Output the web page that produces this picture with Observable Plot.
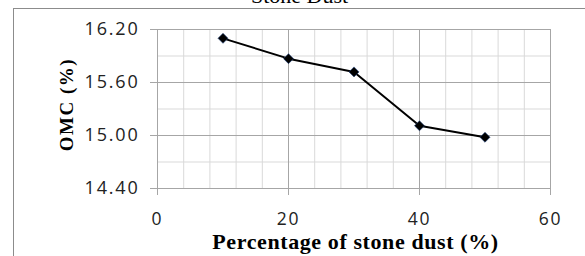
<!DOCTYPE html>
<html>
<head>
<meta charset="utf-8">
<script src="https://cdn.jsdelivr.net/npm/d3@7"></script>
<script src="https://cdn.jsdelivr.net/npm/@observablehq/plot@0.6"></script>
<style>
  html, body { margin: 0; padding: 0; background: #fff; }
  #wrap { position: relative; width: 585px; height: 256px; overflow: hidden; background: #fff; }
  #border { position: absolute; left: 13px; top: 8px; width: 600px; height: 300px;
            border-left: 1.5px solid #8c8c8c; border-top: 1.5px solid #8c8c8c; box-sizing: border-box; }
  #title { position: absolute; left: 7px; top: -15px; width: 585px; text-align: center;
           font-family: "Liberation Serif", serif; font-size: 22px; line-height: 22px; color: #000; }
  #chart { position: absolute; left: 0; top: 0; }
</style>
</head>
<body>
<div id="wrap">
  <div id="border"></div>
  <div id="chart"></div>
  <div id="title"></div>
</div>
<script>
// ---- data ----
const titleText = "Stone Dust";
const xLabel = "Percentage of stone dust (%)";
const yLabel = "OMC (%)";
const stoneDust = [10, 20, 30, 40, 50];
const omc = [16.10, 15.87, 15.72, 15.11, 14.98];
const xTicks = [0, 20, 40, 60];
const xMinorGrid = [4, 8, 12, 16, 24, 28, 32, 36, 44, 48, 52, 56];
const yTicks = [14.4, 15.0, 15.6, 16.2];
const yMinorGrid = [14.7, 15.3, 15.9];

const data = stoneDust.map((x, i) => ({x, y: omc[i]}));

document.getElementById("title").textContent = titleText;

const chart = Plot.plot({
  width: 585,
  height: 256,
  marginLeft: 157,
  marginRight: 35,
  marginTop: 29,
  marginBottom: 68,
  style: {background: "transparent", overflow: "visible"},
  x: {domain: [0, 60]},
  y: {domain: [14.4, 16.2]},
  marks: [
    Plot.ruleX(xMinorGrid, {stroke: "#d9d9d9", strokeWidth: 1}),
    Plot.ruleY(yMinorGrid, {stroke: "#d9d9d9", strokeWidth: 1}),
    Plot.ruleX(xTicks, {stroke: "#a6a6a6", strokeWidth: 1}),
    Plot.ruleY(yTicks, {stroke: "#a6a6a6", strokeWidth: 1}),
    Plot.axisX(xTicks, {tickSize: 7, tickPadding: 17, stroke: "#a6a6a6", fill: "#222",
      fontFamily: "Open Sans", fontSize: 17.5, tickFormat: "d", label: null}),
    Plot.axisY(yTicks, {tickSize: 7, tickPadding: 11, stroke: "#a6a6a6", fill: "#222",
      fontFamily: "Open Sans", fontSize: 18, tickFormat: ".2f", label: null}),
    Plot.text([xLabel], {frameAnchor: "bottom", dx: 1.5, dy: 53, lineAnchor: "middle",
      fontFamily: "Liberation Serif", fontWeight: "bold", fontSize: 22, fill: "#000"}),
    Plot.text([yLabel], {frameAnchor: "left", textAnchor: "middle", rotate: -90, dx: -91, dy: -4.5,
      lineAnchor: "middle", fontFamily: "Liberation Serif", fontWeight: "bold", fontSize: 19, fill: "#000"}),
    Plot.line(data, {x: "x", y: "y", stroke: "#000", strokeWidth: 2}),
    Plot.dot(data, {x: "x", y: "y", symbol: "diamond2", r: 4.5, fill: "#000",
      stroke: "#1f3f7a", strokeWidth: 0.6})
  ]
});
// widen letter spacing to mimic the reference's wide glyphs
const svg = d3.select(chart);
svg.selectAll('g[aria-label="x-axis tick label"] text, g[aria-label="y-axis tick label"] text')
  .style("letter-spacing", "1.8px");
svg.selectAll('g[aria-label="text"] text').each(function() {
  const t = d3.select(this);
  t.style("letter-spacing", t.text() === yLabel ? "1.5px" : "0.6px");
});
document.getElementById("chart").appendChild(chart);
</script>
</body>
</html>
